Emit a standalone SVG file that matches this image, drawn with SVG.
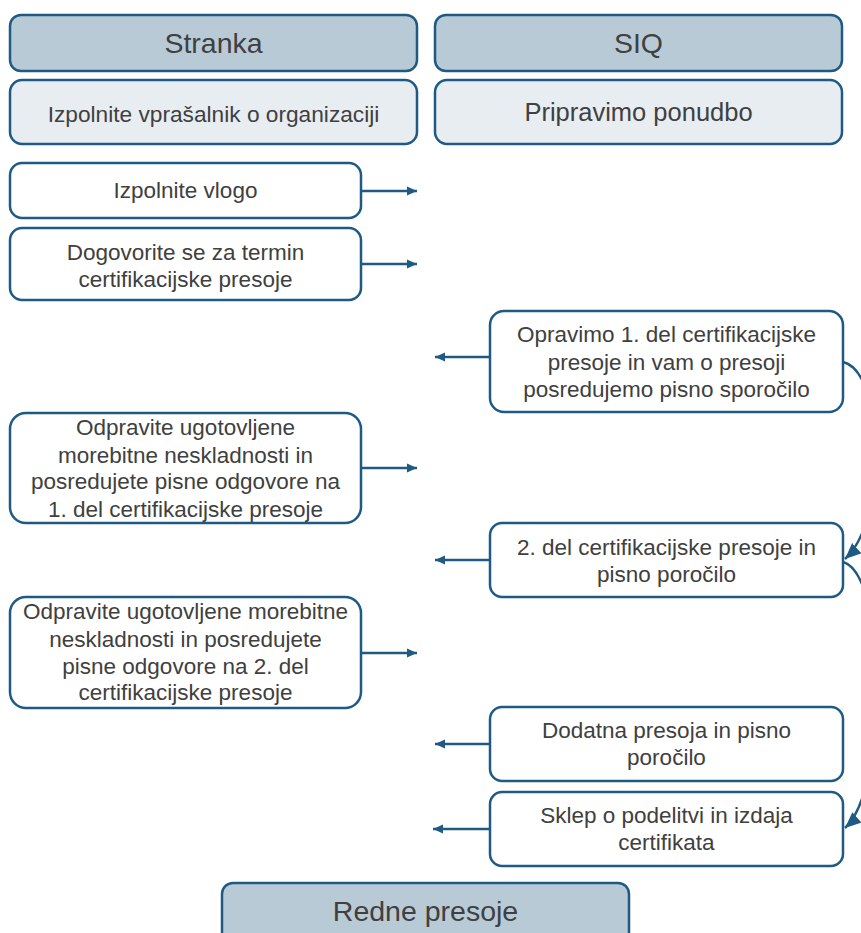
<svg xmlns="http://www.w3.org/2000/svg" width="861" height="933" viewBox="0 0 861 933">
<defs>
<style>
.hdr{fill:#b9cad7;stroke:#1f5a85;stroke-width:2.5}
.lv2{fill:#e8edf2;stroke:#1f5a85;stroke-width:2.5}
.box{fill:#ffffff;stroke:#1f5a85;stroke-width:2.5}
text{font-family:"Liberation Sans",Arial,sans-serif;fill:#404040;text-anchor:middle}
.h{font-size:28.5px}
.t{font-size:22.5px}
.con{fill:none;stroke:#1f5a85;stroke-width:2.4}
</style>
<marker id="a" markerUnits="userSpaceOnUse" markerWidth="12" markerHeight="10" refX="10" refY="5" orient="auto">
<path d="M0,0.5 L10,5 L0,9.5 Z" fill="#1f5a85"/>
</marker>
<marker id="b" markerUnits="userSpaceOnUse" markerWidth="18" markerHeight="16" refX="16" refY="8" orient="auto">
<path d="M0,1 L16,8 L0,15 Z" fill="#1f5a85"/>
</marker>
</defs>
<rect width="861" height="933" fill="#ffffff"/>

<g id="stranka">
<rect class="hdr" x="10" y="15" width="407" height="56" rx="11"/>
<text class="h" x="213.5" y="53">Stranka</text>
</g>
<g id="siq">
<rect class="hdr" x="435" y="15" width="407" height="56" rx="11"/>
<text class="h" x="638.5" y="53">SIQ</text>
</g>
<g id="vprasalnik">
<rect class="lv2" x="10" y="80" width="407" height="64" rx="12"/>
<text x="213.5" y="122" style="font-size:22.7px">Izpolnite vprašalnik o organizaciji</text>
</g>
<g id="ponudba">
<rect class="lv2" x="435" y="80" width="407" height="64" rx="12"/>
<text x="638.5" y="121" style="font-size:25.5px">Pripravimo ponudbo</text>
</g>
<g id="vloga">
<rect class="box" x="10" y="163" width="351" height="55" rx="12"/>
<text class="t" x="185.5" y="198">Izpolnite vlogo</text>
</g>
<g id="termin">
<rect class="box" x="10" y="228" width="351" height="72" rx="12"/>
<text class="t" x="185.5" y="260">Dogovorite se za termin</text>
<text class="t" x="185.5" y="287">certifikacijske presoje</text>
</g>
<g id="del1">
<rect class="box" x="490" y="311" width="353" height="101" rx="14"/>
<text class="t" x="666.5" y="342">Opravimo 1. del certifikacijske</text>
<text class="t" x="666.5" y="370">presoje in vam o presoji</text>
<text class="t" x="666.5" y="397">posredujemo pisno sporočilo</text>
</g>
<g id="odprava1">
<rect class="box" x="10" y="413" width="351" height="110" rx="16"/>
<text class="t" x="185.5" y="435">Odpravite ugotovljene</text>
<text class="t" x="185.5" y="463">morebitne neskladnosti in</text>
<text class="t" x="185.5" y="489">posredujete pisne odgovore na</text>
<text class="t" x="185.5" y="517">1. del certifikacijske presoje</text>
</g>
<g id="del2">
<rect class="box" x="490" y="523" width="353" height="74" rx="12"/>
<text class="t" x="666.5" y="555">2. del certifikacijske presoje in</text>
<text class="t" x="666.5" y="582">pisno poročilo</text>
</g>
<g id="odprava2">
<rect class="box" x="10" y="597" width="351" height="111" rx="16"/>
<text class="t" x="185.5" y="619">Odpravite ugotovljene morebitne</text>
<text class="t" x="185.5" y="647">neskladnosti in posredujete</text>
<text class="t" x="185.5" y="674">pisne odgovore na 2. del</text>
<text class="t" x="185.5" y="700">certifikacijske presoje</text>
</g>
<g id="dodatna">
<rect class="box" x="490" y="707" width="353" height="74" rx="12"/>
<text class="t" x="666.5" y="738">Dodatna presoja in pisno</text>
<text class="t" x="666.5" y="765">poročilo</text>
</g>
<g id="sklep">
<rect class="box" x="490" y="792" width="353" height="74" rx="12"/>
<text class="t" x="666.5" y="823">Sklep o podelitvi in izdaja</text>
<text class="t" x="666.5" y="850">certifikata</text>
</g>
<g id="redne">
<rect class="hdr" x="222" y="883" width="407" height="80" rx="11"/>
<text class="h" x="425.5" y="921">Redne presoje</text>
</g>

<g id="connectors">
<line class="con" x1="361" y1="191" x2="417" y2="191" marker-end="url(#a)"/>
<line class="con" x1="361" y1="264" x2="417" y2="264" marker-end="url(#a)"/>
<line class="con" x1="490" y1="357" x2="435" y2="357" marker-end="url(#a)"/>
<line class="con" x1="361" y1="468" x2="417" y2="468" marker-end="url(#a)"/>
<line class="con" x1="490" y1="560" x2="435" y2="560" marker-end="url(#a)"/>
<line class="con" x1="361" y1="653" x2="417" y2="653" marker-end="url(#a)"/>
<line class="con" x1="490" y1="744" x2="435" y2="744" marker-end="url(#a)"/>
<line class="con" x1="490" y1="829" x2="433" y2="829" marker-end="url(#a)"/>
<path class="con" d="M843,362 C885,372 888,520 845,559" marker-end="url(#b)"/>
<path class="con" d="M843,562 C888,575 888,790 845,828" marker-end="url(#b)"/>
</g>
</svg>
